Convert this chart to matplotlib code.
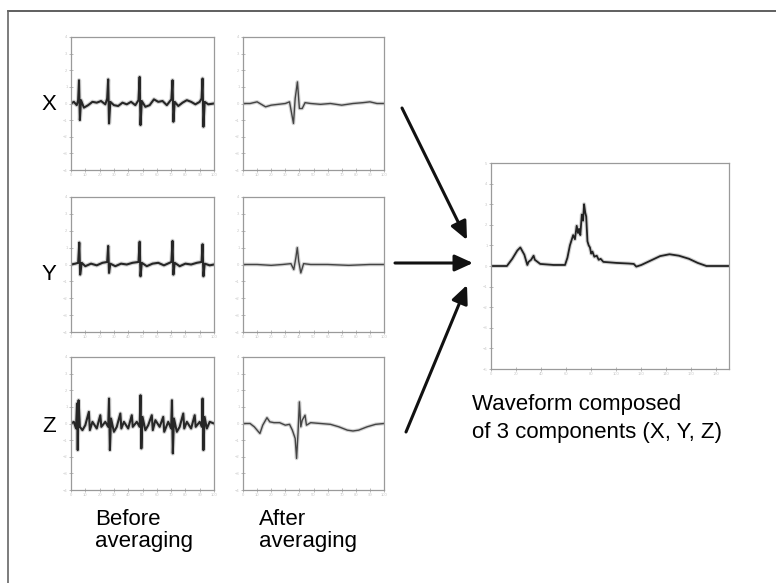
import matplotlib.pyplot as plt
import numpy as np
from matplotlib.lines import Line2D
from matplotlib.patches import FancyArrowPatch

plt.rcParams["font.family"] = ["Liberation Sans", "DejaVu Sans"]

W, H = 776, 583

# traces: (sample, amplitude)
x_before = [(0, 0), (2, 0.1), (4, -0.1), (5, 0.2), (5.6, 1.4), (6.2, -1.0), (7, 0.2), (9, -0.25),
            (12, -0.1), (15, 0.1), (18, 0.05), (21, 0.15), (24, -0.05), (25.3, 0.3), (26, 1.45),
            (26.6, -1.2), (27.5, 0.1), (30, -0.1), (33, -0.15), (36, 0.05), (39, -0.05), (42, 0.1),
            (45, -0.1), (47.2, 0.2), (48, 1.6), (48.6, -1.3), (49.5, 0.15), (52, -0.2), (55, -0.1),
            (58, 0.25), (61, 0.1), (64, 0.15), (67, -0.1), (70.2, 0.25), (71, 1.4), (71.6, -1.1),
            (72.5, 0.1), (75, -0.15), (78, 0.05), (81, 0.2), (84, 0.1), (87, -0.05), (90, 0.1),
            (91.3, 0.3), (92, 1.5), (92.6, -1.4), (93.5, 0.1), (96, -0.05), (100, 0)]
y_before = [(0, 0), (3, 0.05), (5, 0.1), (5.8, 1.3), (6.4, -0.6), (7.5, 0.1), (10, -0.1), (14, 0.05),
            (18, -0.05), (22, 0.1), (25.3, 0.15), (26, 1.1), (26.6, -0.5), (27.5, 0.05), (31, -0.1),
            (35, 0.05), (39, 0), (43, 0.1), (47.2, 0.15), (48, 1.35), (48.6, -0.7), (49.5, 0.1),
            (53, -0.1), (57, 0.05), (61, 0.1), (65, -0.05), (70.2, 0.15), (71, 1.4), (71.6, -0.6),
            (72.5, 0.1), (76, -0.1), (80, 0.05), (84, 0), (88, 0.1), (91.3, 0.15), (92, 1.2),
            (92.6, -0.7), (93.5, 0.05), (97, -0.05), (100, 0)]
z_before = [(0, 0), (2, 0.1), (3.5, -0.3), (4.2, 1.2), (4.7, -1.6), (5.3, 1.4), (6.2, -0.2), (8, -0.4),
            (10, -0.1), (12.5, 0.7), (13.2, -0.4), (15, 0.1), (18, -0.3), (20.5, 0.5), (21.2, -0.2),
            (24, 0.1), (26, -0.2), (26.6, 1.5), (27.2, -1.6), (28, 0.3), (30, -0.5), (32, -0.2),
            (34.5, 0.6), (35.2, -0.3), (37, 0.1), (40, -0.3), (42.5, 0.5), (43.2, -0.2), (46, 0.1),
            (48, -0.2), (48.6, 1.7), (49.2, -1.5), (50, 0.4), (52, -0.4), (54, -0.1), (56.5, 0.5),
            (57.2, -0.4), (59, 0.2), (62, -0.2), (64.5, 0.4), (65.2, -0.5), (68, 0.1), (70, -0.3),
            (70.6, 1.4), (71.2, -1.8), (72, 0.3), (74, -0.5), (76, -0.2), (78.5, 0.6), (79.2, -0.3),
            (81, 0.1), (84, -0.3), (86.5, 0.5), (87.2, -0.2), (90, 0.1), (91.5, -0.2), (92, 1.5),
            (92.6, -1.6), (93.4, 0.4), (95, -0.3), (97, 0.1), (100, 0)]

x_after = [(0, 0), (5, 0), (10, 0.1), (13, -0.05), (16, -0.2), (20, -0.1), (25, -0.05), (30, 0),
           (33, 0.1), (35.8, -1.2), (37, 0.3), (38.6, 1.3), (40, -0.3), (42, -0.3), (44, 0.05),
           (48, 0), (55, -0.05), (62, 0), (70, -0.1), (78, 0), (85, 0.05), (90, 0.1), (95, 0), (100, 0)]
y_after = [(0, 0), (10, 0), (20, -0.05), (28, 0), (34, 0.05), (36, -0.3), (37.5, 0.4), (38.5, 1.0),
           (39.5, 0.2), (41, -0.5), (43, 0.05), (48, 0), (60, 0), (75, -0.05), (90, 0), (100, 0)]
z_after = [(0, 0), (5, 0), (8, -0.2), (10, -0.4), (12, -0.6), (14, -0.1), (16, 0.2), (17, 0.35),
           (19, 0.1), (22, 0.05), (26, 0.05), (30, -0.1), (33, -0.05), (35, -0.4), (37, -0.9),
           (38, -2.1), (39, -0.6), (40, 1.3), (41, -0.2), (42, 0.2), (44, 0.5), (45, -0.1), (48, 0.05),
           (55, 0), (62, -0.05), (68, -0.2), (74, -0.4), (78, -0.45), (82, -0.4), (88, -0.2),
           (94, -0.05), (100, 0)]

composed = [(0, 0), (12.7, 0), (17, 0.35), (21, 0.75), (23.4, 0.9), (26.6, 0.55), (29, 0.05), (30, 0.2),
            (32, 0.3), (34, 0.5), (35, 0.3), (36.1, 0.25), (39.3, 0.1), (50, 0.05), (59.1, 0.05),
            (61, 0.4), (63, 1.0), (65.6, 1.5), (67, 1.3), (68.4, 1.95), (69.5, 1.6), (70.3, 1.8),
            (71.3, 1.5), (72.5, 2.5), (73.5, 2.2), (74.3, 3.0), (75.2, 2.6), (76, 2.4), (77, 1.2),
            (78, 1.0), (79, 0.9), (80, 0.6), (81, 0.7), (82.5, 0.45), (84.4, 0.5), (86, 0.3),
            (87.5, 0.35), (89.7, 0.2), (100, 0.15), (110, 0.12), (114, 0.1), (116, -0.03), (120, 0.05),
            (127, 0.25), (135, 0.48), (142.5, 0.57), (150, 0.5), (158, 0.35), (165, 0.15), (172, 0),
            (190, 0)]

row_labels = ["X", "Y", "Z"]
col_labels = [["Before", "averaging"], ["After", "averaging"]]
caption = ["Waveform composed", "of 3 components (X, Y, Z)"]

small_ticks_x = np.arange(0, 101, 10)
small_ticks_y = np.arange(-4, 5, 1)
big_ticks_x = np.arange(0, 181, 20)
big_ticks_y = np.arange(-5, 6, 1)


def rect(l, t, r, b):
    return [l / W, 1 - b / H, (r - l) / W, (b - t) / H]


def pt(x, y):
    return (x / W, 1 - y / H)


def style(ax, xt, yt):
    for s in ax.spines.values():
        s.set_color("#9a9a9a")
        s.set_linewidth(0.9)
    ax.set_xticks(xt)
    ax.set_yticks(yt)
    ax.tick_params(direction="inout", length=3, width=0.6, colors="#b0b0b0",
                   labelsize=3, labelcolor="#c8c8c8", pad=1)


def trace(ax, pts, lw, color):
    d = np.array(pts)
    # soft halo, the scanned traces look blurred
    ax.plot(d[:, 0], d[:, 1], color="#b5b5b5", lw=lw + 1.6, alpha=0.6, solid_joinstyle="round")
    ax.plot(d[:, 0], d[:, 1], color=color, lw=lw, solid_joinstyle="round")


fig = plt.figure(figsize=(W / 100, H / 100), dpi=100)

# outer frame (top and left edges show in the picture)
fig.add_artist(Line2D([8 / W, 1], [1 - 11 / H] * 2, transform=fig.transFigure, color="#444", lw=1.2))
fig.add_artist(Line2D([8 / W] * 2, [0, 1 - 11 / H], transform=fig.transFigure, color="#666", lw=1.2))

rows = [(37, 170), (197, 332), (357, 490)]
cols = [(71, 214), (243, 384)]
traces = [[x_before, x_after], [y_before, y_after], [z_before, z_after]]
label_y = [105, 275, 426]

for i, (top, bot) in enumerate(rows):
    for j, (left, right) in enumerate(cols):
        ax = fig.add_axes(rect(left, top, right, bot))
        if j == 0:
            trace(ax, traces[i][j], 1.5, "#262626")
        else:
            trace(ax, traces[i][j], 1.0, "#444444")
        ax.set_xlim(0, 100)
        ax.set_ylim(-4, 4)
        style(ax, small_ticks_x, small_ticks_y)
    fig.text(*pt(49, label_y[i]), row_labels[i], fontsize=16, ha="center", va="center")

ax = fig.add_axes(rect(491, 163, 729, 369))
trace(ax, composed, 1.3, "#222222")
ax.set_xlim(0, 190)
ax.set_ylim(-5, 5)
style(ax, big_ticks_x, big_ticks_y)

# arrows
arrows = [((402, 108), (467, 240)), ((395, 263), (473, 263)), ((406, 432), (467, 285))]
for a, b in arrows:
    fig.add_artist(FancyArrowPatch(pt(*a), pt(*b), transform=fig.transFigure,
                                   arrowstyle="-|>,head_length=1.1,head_width=0.5",
                                   mutation_scale=10, lw=2.2, color="#111",
                                   shrinkA=0, shrinkB=0))

# captions
for (x0, _), lines in zip([(95, 0), (259, 0)], col_labels):
    fig.text(*pt(x0, 525), lines[0], fontsize=16, va="baseline")
    fig.text(*pt(x0, 547), lines[1], fontsize=16, va="baseline")
fig.text(*pt(472, 410), caption[0], fontsize=16, va="baseline")
fig.text(*pt(472, 438), caption[1], fontsize=16, va="baseline")

fig.savefig("out.png", dpi=100)
